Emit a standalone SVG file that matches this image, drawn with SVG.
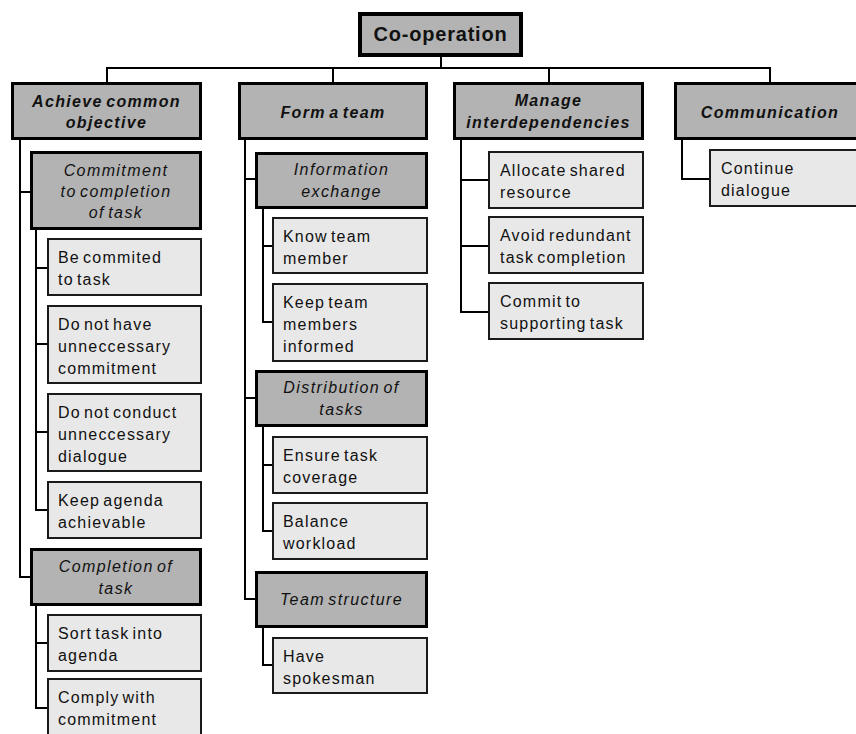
<svg xmlns="http://www.w3.org/2000/svg" width="856" height="734" viewBox="0 0 856 734">
  <style>
    text { font-family: "Liberation Sans", Arial, sans-serif; font-size: 16px; fill: #111; letter-spacing: 1.2px; word-spacing: -2.5px; }
    .root rect { fill: #b3b3b3; stroke: #000; stroke-width: 4; }
    .root text { font-size: 20px; font-weight: bold; letter-spacing: 0.8px; text-anchor: middle; }
    .cat rect { fill: #b3b3b3; stroke: #000; stroke-width: 3; }
    .cat text { font-weight: bold; font-style: italic; text-anchor: middle; letter-spacing: 1.35px; }
    .sub rect { fill: #b3b3b3; stroke: #000; stroke-width: 3; }
    .sub text { font-style: italic; text-anchor: middle; letter-spacing: 1.4px; }
    .leaf rect { fill: #e8e8e8; stroke: #1a1a1a; stroke-width: 2; }
    .links path { fill: none; stroke: #000; stroke-width: 2; }
  </style>
  <rect width="856" height="734" fill="#fff"/>

  <!-- tree connectors -->
  <g class="links">
    <path d="M441,57 V68 M107,82 V68 H770 V82 M333,68 V82 M549,68 V82"/>
    <path d="M20,140 V577 H30 M20,192 H30"/>
    <path d="M36,230 V510 H47 M36,268 H47 M36,344 H47 M36,432 H47"/>
    <path d="M36,606 V708 H47 M36,643 H47"/>
    <path d="M245,140 V599 H255 M245,179 H255 M245,398 H255"/>
    <path d="M263,209 V322 H272 M263,246 H272"/>
    <path d="M263,427 V531 H272 M263,465 H272"/>
    <path d="M263,628 V665 H272"/>
    <path d="M461,140 V312 H488 M461,180 H488 M461,246 H488"/>
    <path d="M682,140 V179 H709"/>
  </g>

  <!-- root -->
  <g id="cooperation" class="root">
    <rect x="360" y="14" width="161" height="41"/>
    <text x="440.5" y="41">Co-operation</text>
  </g>

  <!-- first level -->
  <g id="achieve-common-objective" class="cat">
    <rect x="12.5" y="83.5" width="188" height="55"/>
    <text x="106.5" y="107">Achieve common</text>
    <text x="106.5" y="128">objective</text>
  </g>
  <g id="form-a-team" class="cat">
    <rect x="239.5" y="83.5" width="187" height="55"/>
    <text x="333" y="118">Form a team</text>
  </g>
  <g id="manage-interdependencies" class="cat">
    <rect x="454.5" y="83.5" width="188" height="55"/>
    <text x="548.5" y="106">Manage</text>
    <text x="548.5" y="128">interdependencies</text>
  </g>
  <g id="communication" class="cat">
    <rect x="675.5" y="83.5" width="189" height="55"/>
    <text x="770" y="118">Communication</text>
  </g>

  <!-- Achieve common objective branch -->
  <g id="commitment-to-completion" class="sub">
    <rect x="31.5" y="152.5" width="169" height="76"/>
    <text x="116" y="176">Commitment</text>
    <text x="116" y="197">to completion</text>
    <text x="116" y="218">of task</text>
  </g>
  <g id="be-commited" class="leaf">
    <rect x="48" y="239" width="153" height="56"/>
    <text x="58" y="263">Be commited</text>
    <text x="58" y="285">to task</text>
  </g>
  <g id="no-unnecessary-commitment" class="leaf">
    <rect x="48" y="306" width="153" height="77"/>
    <text x="58" y="330">Do not have</text>
    <text x="58" y="352">unneccessary</text>
    <text x="58" y="374">commitment</text>
  </g>
  <g id="no-unnecessary-dialogue" class="leaf">
    <rect x="48" y="394" width="153" height="77"/>
    <text x="58" y="418">Do not conduct</text>
    <text x="58" y="440">unneccessary</text>
    <text x="58" y="462">dialogue</text>
  </g>
  <g id="keep-agenda" class="leaf">
    <rect x="48" y="482" width="153" height="56"/>
    <text x="58" y="506">Keep agenda</text>
    <text x="58" y="528">achievable</text>
  </g>
  <g id="completion-of-task" class="sub">
    <rect x="31.5" y="549.5" width="169" height="55"/>
    <text x="116" y="572">Completion of</text>
    <text x="116" y="594">task</text>
  </g>
  <g id="sort-task" class="leaf">
    <rect x="48" y="615" width="153" height="56"/>
    <text x="58" y="639">Sort task into</text>
    <text x="58" y="661">agenda</text>
  </g>
  <g id="comply" class="leaf">
    <rect x="48" y="679" width="153" height="58"/>
    <text x="58" y="703">Comply with</text>
    <text x="58" y="725">commitment</text>
  </g>

  <!-- Form a team branch -->
  <g id="information-exchange" class="sub">
    <rect x="256.5" y="153.5" width="170" height="54"/>
    <text x="341.5" y="175">Information</text>
    <text x="341.5" y="197">exchange</text>
  </g>
  <g id="know-team-member" class="leaf">
    <rect x="273" y="218" width="154" height="55"/>
    <text x="283" y="242">Know team</text>
    <text x="283" y="264">member</text>
  </g>
  <g id="keep-informed" class="leaf">
    <rect x="273" y="284" width="154" height="77"/>
    <text x="283" y="308">Keep team</text>
    <text x="283" y="330">members</text>
    <text x="283" y="352">informed</text>
  </g>
  <g id="distribution-of-tasks" class="sub">
    <rect x="256.5" y="371.5" width="170" height="54"/>
    <text x="341.5" y="393">Distribution of</text>
    <text x="341.5" y="415">tasks</text>
  </g>
  <g id="ensure-coverage" class="leaf">
    <rect x="273" y="437" width="154" height="56"/>
    <text x="283" y="461">Ensure task</text>
    <text x="283" y="483">coverage</text>
  </g>
  <g id="balance-workload" class="leaf">
    <rect x="273" y="503" width="154" height="56"/>
    <text x="283" y="527">Balance</text>
    <text x="283" y="549">workload</text>
  </g>
  <g id="team-structure" class="sub">
    <rect x="256.5" y="572.5" width="170" height="54"/>
    <text x="341.5" y="605">Team structure</text>
  </g>
  <g id="have-spokesman" class="leaf">
    <rect x="273" y="638" width="154" height="55"/>
    <text x="283" y="662">Have</text>
    <text x="283" y="684">spokesman</text>
  </g>

  <!-- Manage interdependencies branch -->
  <g id="allocate-resource" class="leaf">
    <rect x="489" y="152" width="154" height="56"/>
    <text x="500" y="176">Allocate shared</text>
    <text x="500" y="198">resource</text>
  </g>
  <g id="avoid-redundant" class="leaf">
    <rect x="489" y="217" width="154" height="56"/>
    <text x="500" y="241">Avoid redundant</text>
    <text x="500" y="263">task completion</text>
  </g>
  <g id="commit-supporting" class="leaf">
    <rect x="489" y="283" width="154" height="56"/>
    <text x="500" y="307">Commit to</text>
    <text x="500" y="329">supporting task</text>
  </g>

  <!-- Communication branch -->
  <g id="continue-dialogue" class="leaf">
    <rect x="710" y="150" width="155" height="56"/>
    <text x="721" y="174">Continue</text>
    <text x="721" y="196">dialogue</text>
  </g>
</svg>
